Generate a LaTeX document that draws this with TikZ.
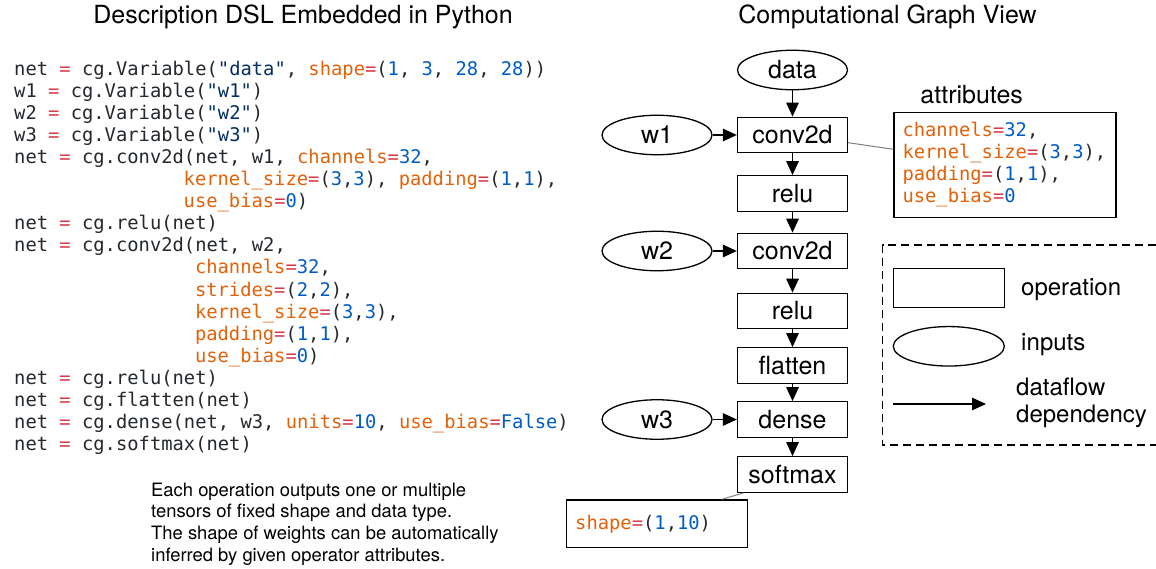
\documentclass[tikz,border=0pt]{standalone}
\usepackage{fontspec}
\setmainfont{TeX Gyre Heros}
\newfontfamily\codefont{DejaVu Sans Mono}
\usetikzlibrary{arrows.meta,shapes.geometric}
\definecolor{ctext}{HTML}{24292E}
\definecolor{ceqc}{HTML}{D73A49}
\definecolor{ckw}{HTML}{E36209}
\definecolor{cnum}{HTML}{005CC5}
\definecolor{cstr}{HTML}{032F62}
\newcommand\cEq{\textcolor{ceqc}{=}}
\newcommand\cKw[1]{\textcolor{ckw}{#1}}
\newcommand\cNm[1]{\textcolor{cnum}{#1}}
\newcommand\cSt[1]{\textcolor{cstr}{#1}}
\tikzset{
  code/.style={font=\codefont\fontsize{18.8}{22}\selectfont, text=ctext, anchor=base west, inner sep=0pt},
  title/.style={font=\fontsize{25}{30}\selectfont},
  opbox/.style={draw, line width=1.3pt, minimum width=110pt, minimum height=35.5pt, inner sep=0pt, font=\fontsize{25}{30}\selectfont},
  inbox/.style={ellipse, draw, line width=1.3pt, minimum width=110pt, minimum height=39.5pt, inner sep=0pt, font=\fontsize{25}{30}\selectfont},
  flow/.style={-{Triangle[length=14pt,width=12.5pt]}, line width=1.3pt},
  attrbox/.style={draw, line width=1.3pt, align=left, inner xsep=8.5pt, inner ysep=0pt, font=\codefont\fontsize{18.8}{22}\selectfont, text=ctext},
  leglabel/.style={anchor=west, font=\fontsize{24}{26}\selectfont, inner sep=0pt},
  note/.style={anchor=base west, font=\fontsize{18.4}{21.7}\selectfont, inner sep=0pt},
  leader/.style={draw=gray, line width=1pt}
}
\begin{document}
\begin{tikzpicture}[x=1pt,y=-1pt]
\useasboundingbox[fill=white] (0,0) rectangle (1156,569);

% titles
\node[title] (t1) at (303,17) {Description DSL Embedded in Python};
\node[title] (t2) at (887.5,17) {Computational Graph View};

% code
\node[code] (c1) at (14,76) {net \cEq{} cg.Variable(\cSt{"data"}, \cKw{shape}\cEq(\cNm{1}, \cNm{3}, \cNm{28}, \cNm{28}))};
\node[code] (c2) at (14,98) {w1 \cEq{} cg.Variable(\cSt{"w1"})};
\node[code] (c3) at (14,120) {w2 \cEq{} cg.Variable(\cSt{"w2"})};
\node[code] (c4) at (14,142) {w3 \cEq{} cg.Variable(\cSt{"w3"})};
\node[code] (c5) at (14,164) {net \cEq{} cg.conv2d(net, w1, \cKw{channels}\cEq\cNm{32},};
\node[code] (c6) at (183.5,186) {\cKw{kernel\_size}\cEq(\cNm{3},\cNm{3}), \cKw{padding}\cEq(\cNm{1},\cNm{1}),};
\node[code] (c7) at (183.5,208) {\cKw{use\_bias}\cEq\cNm{0})};
\node[code] (c8) at (14,230) {net \cEq{} cg.relu(net)};
\node[code] (c9) at (14,252) {net \cEq{} cg.conv2d(net, w2,};
\node[code] (c10) at (194.8,274) {\cKw{channels}\cEq\cNm{32},};
\node[code] (c11) at (194.8,296) {\cKw{strides}\cEq(\cNm{2},\cNm{2}),};
\node[code] (c12) at (194.8,318) {\cKw{kernel\_size}\cEq(\cNm{3},\cNm{3}),};
\node[code] (c13) at (194.8,340) {\cKw{padding}\cEq(\cNm{1},\cNm{1}),};
\node[code] (c14) at (194.8,362) {\cKw{use\_bias}\cEq\cNm{0})};
\node[code] (c15) at (14,384) {net \cEq{} cg.relu(net)};
\node[code] (c16) at (14,406) {net \cEq{} cg.flatten(net)};
\node[code] (c17) at (14,428) {net \cEq{} cg.dense(net, w3, \cKw{units}\cEq\cNm{10}, \cKw{use\_bias}\cEq\cNm{False})};
\node[code] (c18) at (14,450) {net \cEq{} cg.softmax(net)};

% note
\node[note] (n1) at (151,496) {Each operation outputs one or multiple};
\node[note] (n2) at (151,517.7) {tensors of fixed shape and data type.};
\node[note] (n3) at (151,539.3) {The shape of weights can be automatically};
\node[note] (n4) at (151,561) {inferred by given operator attributes.};

% graph
\node[inbox] (data) at (792.5,70) {data};
\node[opbox] (conv1) at (792.5,135) {conv2d};
\node[opbox] (relu1) at (792.5,193.5) {relu};
\node[opbox] (conv2) at (792.5,251) {conv2d};
\node[opbox] (relu2) at (792.5,311) {relu};
\node[opbox] (flat) at (792.5,365.5) {flatten};
\node[opbox] (dense) at (792.5,419.5) {dense};
\node[opbox] (soft) at (792.5,474.5) {softmax};
\node[inbox] (w1) at (657,135) {w1};
\node[inbox] (w2) at (657,251) {w2};
\node[inbox] (w3) at (657,419.5) {w3};

\draw[flow] (data) -- (conv1);
\draw[flow] (conv1) -- (relu1);
\draw[flow] (relu1) -- (conv2);
\draw[flow] (conv2) -- (relu2);
\draw[flow] (relu2) -- (flat);
\draw[flow] (flat) -- (dense);
\draw[flow] (dense) -- (soft);
\draw[flow] (w1) -- (conv1);
\draw[flow] (w2) -- (conv2);
\draw[flow] (w3) -- (dense);

% attributes
\node[font=\fontsize{25}{30}\selectfont] (attrlbl) at (971.7,95) {attributes};
\node[attrbox, text width=205pt, minimum height=105pt] (attr) at (1005,164.8) {\cKw{channels}\cEq\cNm{32},\\\cKw{kernel\_size}\cEq(\cNm{3},\cNm{3}),\\\cKw{padding}\cEq(\cNm{1},\cNm{1}),\\\cKw{use\_bias}\cEq\cNm{0}};
\draw[leader] ([yshift=-7.7pt]conv1.east) -- ([yshift=15.5pt]attr.west);

% shape box
\node[attrbox, text width=163.6pt, minimum height=47.7pt] (shp) at (657,523.85) {\cKw{shape}\cEq(\cNm{1},\cNm{10})};
\draw[leader] ([xshift=-49pt]soft.south) -- ([xshift=64.7pt]shp.north);

% legend
\draw[line width=1.3pt, dash pattern=on 8pt off 5pt] (1156,245) -- (882.7,245) -- (882.7,445) -- (1156,445);
\node[draw, line width=1.3pt, minimum width=111pt, minimum height=39.4pt, inner sep=0pt] (legop) at (948.8,288) {};
\node[leglabel] (legoplbl) at (1021,290) {operation};
\node[ellipse, draw, line width=1.3pt, minimum width=111pt, minimum height=39.5pt, inner sep=0pt] (legin) at (948.8,346.3) {};
\node[leglabel] (leginlbl) at (1021,345) {inputs};
\coordinate (legfrom) at (893.3,404);
\coordinate (legto) at (986,404);
\draw[flow] (legfrom) -- (legto);
\node[leglabel, align=left, font=\fontsize{24}{26.7}\selectfont] (legflowlbl) at (1016,403) {dataflow\\dependency};
\end{tikzpicture}
\end{document}
